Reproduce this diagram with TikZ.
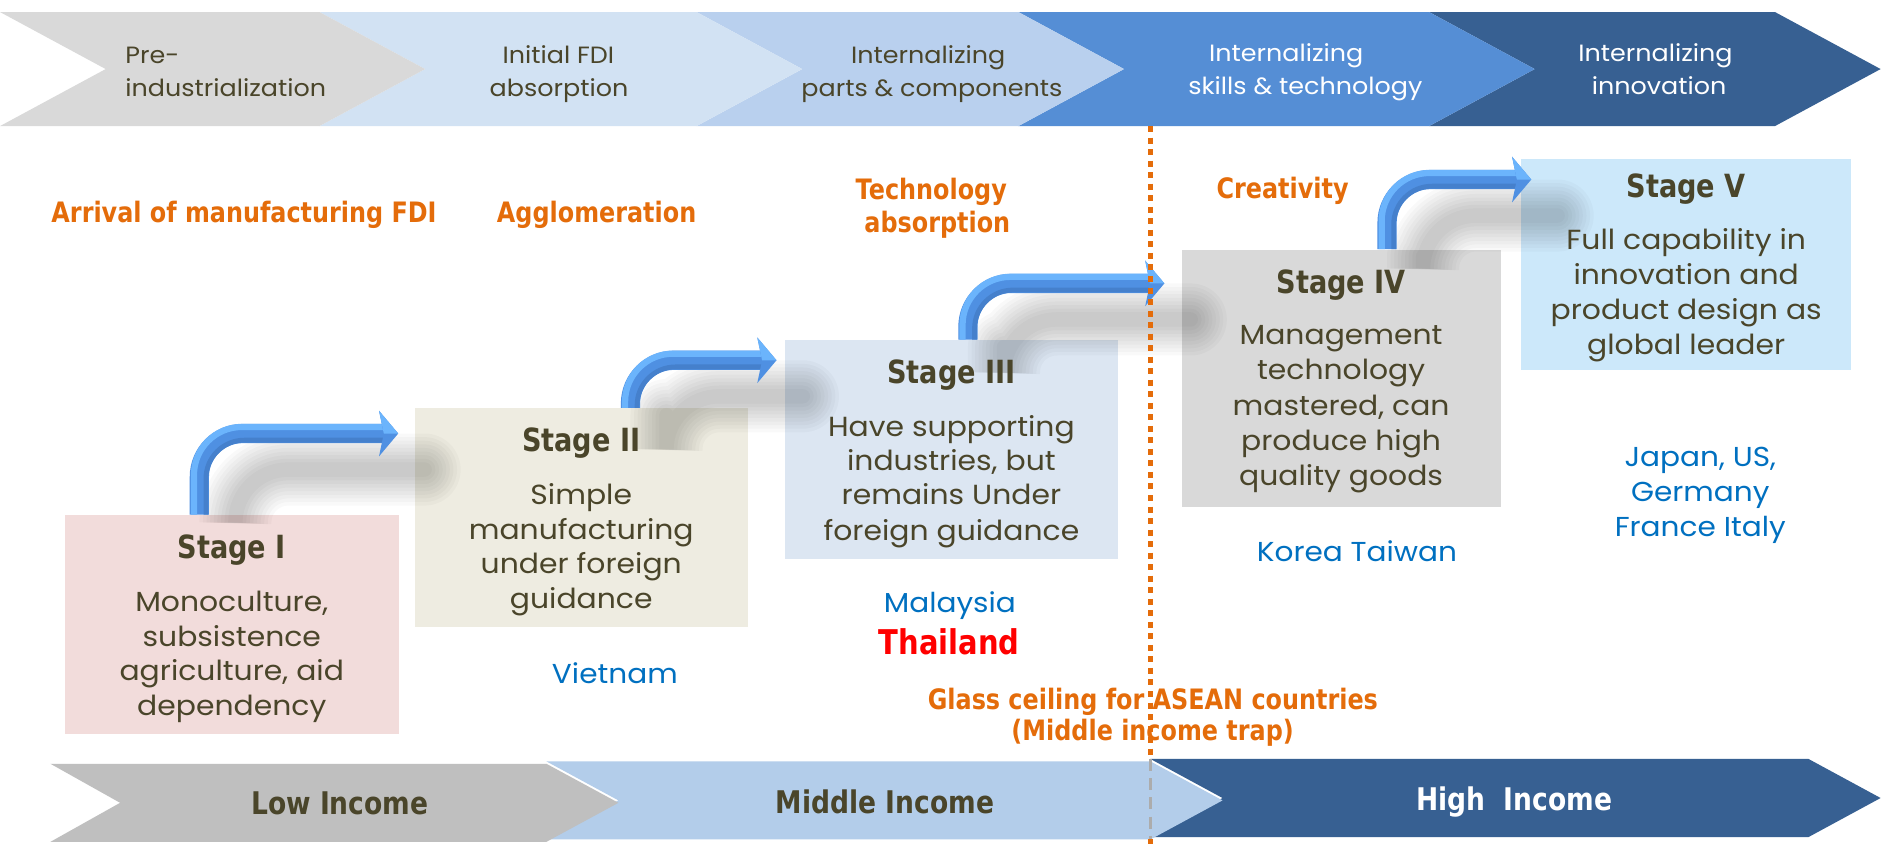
\documentclass[tikz,border=0pt]{standalone}
\usepackage{fontspec}
\usetikzlibrary{calc}
\newfontfamily\gothic{Poppins}[FakeStretch=1.08]
\newfontfamily\heavy{DejaVu Sans}[FakeStretch=0.85]
\definecolor{txt}{HTML}{4A452A}
\definecolor{orng}{HTML}{E46C0A}
\definecolor{cblue}{HTML}{0070C0}
\definecolor{pre}{HTML}{D9D9D9}
\definecolor{ini}{HTML}{D2E2F3}
\definecolor{parts}{HTML}{B9D0EE}
\definecolor{skills}{HTML}{558ED5}
\definecolor{innov}{HTML}{376092}
\definecolor{low}{HTML}{BFBFBF}
\definecolor{mid}{HTML}{B3CDEA}
\definecolor{high}{HTML}{376092}
\definecolor{bI}{HTML}{F2DCDB}
\definecolor{bII}{HTML}{EEECE1}
\definecolor{bIII}{HTML}{DCE6F2}
\definecolor{bIV}{HTML}{D9D9D9}
\definecolor{bV}{HTML}{CCE8FA}
\definecolor{arrowdark}{HTML}{4F90E2}
\definecolor{arrowlight}{HTML}{6BB4FC}
\definecolor{arrowdeep}{HTML}{4580CC}
\begin{document}
\begin{tikzpicture}[x=0.5pt,y=-0.5pt,
  body/.style={anchor=base, inner sep=0pt, text=txt, font=\gothic\fontsize{11.5}{14}\selectfont},
  title/.style={anchor=base, inner sep=0pt, text=txt, font=\heavy\bfseries\fontsize{13.3}{16}\selectfont},
  toplab/.style={anchor=base, inner sep=0pt, text=txt, font=\gothic\fontsize{9.8}{12}\selectfont},
  toplabw/.style={toplab, text=white},
  orlab/.style={anchor=base, inner sep=0pt, text=orng, font=\heavy\bfseries\fontsize{11.7}{14}\selectfont},
  country/.style={anchor=base, inner sep=0pt, text=cblue, font=\gothic\fontsize{11.4}{14}\selectfont},
  thai/.style={anchor=base, inner sep=0pt, text=red, font=\heavy\bfseries\fontsize{14.2}{16}\selectfont},
  income/.style={anchor=base, inner sep=0pt, text=txt, font=\heavy\bfseries\fontsize{13}{15}\selectfont},
  stagebox/.style={draw=none, inner sep=0pt},
  shaft/.style={line width=8pt, draw=arrowdark, rounded corners=18pt},
  shafthi/.style={line width=2.6pt, draw=arrowlight, rounded corners=20pt},
  shaftlo/.style={line width=2pt, draw=arrowdeep, rounded corners=16pt},
  arrowhead/.style={fill=arrowdark},
  glowline/.style={line cap=round, rounded corners=22pt}
]
\fill[white] (0,0) rectangle (1568,703);
\useasboundingbox (0,0) rectangle (1568,703);

% top chevrons
\fill[innov]  (1190,10) -- (1478,10) -- (1566,57.5) -- (1478,105) -- (1190,105) -- (1278,57.5) -- cycle;
\fill[skills] (848,10) -- (1190,10) -- (1278,57.5) -- (1190,105) -- (848,105) -- (936,57.5) -- cycle;
\fill[parts]  (580,10) -- (848,10) -- (936,57.5) -- (848,105) -- (580,105) -- (668,57.5) -- cycle;
\fill[ini]    (266,10) -- (580,10) -- (668,57.5) -- (580,105) -- (266,105) -- (354,57.5) -- cycle;
\fill[pre]    (0,10) -- (266,10) -- (354,57.5) -- (266,105) -- (0,105) -- (88,57.5) -- cycle;

\node[toplab, anchor=base west] (p1) at (104,52.8) {Pre-};
\node[toplab, anchor=base west] (p2) at (104,80) {industrialization};
\node[toplab] (i1) at (465,52.8) {Initial FDI};
\node[toplab] (i2) at (465.5,80.5) {absorption};
\node[toplab] (c1) at (773,52.5) {Internalizing};
\node[toplab] (c2) at (776,80) {parts \& components};
\node[toplabw] (k1) at (1071,51.4) {Internalizing};
\node[toplabw] (k2) at (1087,79) {skills \& technology};
\node[toplabw] (n1) at (1378.5,51.4) {Internalizing};
\node[toplabw] (n2) at (1381.5,79) {innovation};

% orange labels
\node[orlab] (o1) at (203.2,185.5) {Arrival of manufacturing FDI};
\node[orlab] (o2) at (496.8,185.5) {Agglomeration};
\node[orlab] (o3) at (775.5,165.8) {Technology};
\node[orlab] (o4) at (780.5,193.5) {absorption};
\node[orlab] (o5) at (1068,165.5) {Creativity};

% boxes
\node[stagebox, fill=bI,   minimum width=139pt,   minimum height=91.3pt]  (s1) at (193,520.3) {};
\node[stagebox, fill=bII,  minimum width=138.5pt, minimum height=91.25pt] (s2) at (484,431.25) {};
\node[stagebox, fill=bIII, minimum width=138.45pt,minimum height=91.25pt] (s3) at (792.25,374.55) {};
\node[stagebox, fill=bIV,  minimum width=132.75pt,minimum height=107pt]   (s4) at (1116.75,314.8) {};
\node[stagebox, fill=bV,   minimum width=137.6pt, minimum height=87.75pt] (s5) at (1404.1,220.05) {};

% arrow targets
\coordinate (t1) at ($(s2.west)+(-13.5,-70.25)$);
\coordinate (t2) at ($(s3.west)+(-6.8,-74.55)$);
\coordinate (t3) at ($(s4.west)+(-14,-78.8)$);
\coordinate (t4) at ($(s5.west)+(9,-70.55)$);
\coordinate (f1) at ($(s1.north)+(-27,0)$);
\coordinate (f2) at ($(s2.north)+(41,0)$);
\coordinate (f3) at ($(s3.north)+(13.75,0)$);
\coordinate (f4) at ($(s4.north)+(38.25,0)$);

% soft shadows
\foreach \f/\t in {f1/t1, f2/t2, f3/t3, f4/t4}{
  \foreach \w in {30pt,27pt,24pt,21pt,18pt,15pt,12pt,9pt,6pt}{
    \draw[glowline, black, opacity=0.022, line width=\w] ($(\f)+(30,6)$) |- ($(\t)+(22,30)$);
  }
}

% arrows
\foreach \f/\t in {f1/t1, f2/t2, f3/t3, f4/t4}{
  \draw[shaft] (\f) |- ($(\t)+(-12,0)$);
  \draw[shafthi] ($(\f)+(-4.5,0)$) |- ($(\t)+(-12,-5.5)$);
  \draw[shaftlo] ($(\f)+(5.5,0)$) |- ($(\t)+(-12,5.5)$);
  \fill[arrowhead] (\t) -- ++(-16,-19) -- ++(4,19) -- ++(-4,19) -- cycle;
  \fill[arrowlight] (\t) -- ++(-16,-19) -- ++(4,19) -- cycle;
}

% box texts
\node[title] (s1t) at (193,465) {Stage I};
\node[body] (s1a) at (193,509.4) {Monoculture,};
\node[body] (s1b) at (193,538) {subsistence};
\node[body] (s1c) at (193,566.7) {agriculture, aid};
\node[body] (s1d) at (193,595.4) {dependency};

\node[title] (s2t) at (484,376) {Stage II};
\node[body] (s2a) at (484,420.5) {Simple};
\node[body] (s2b) at (484,449) {manufacturing};
\node[body] (s2c) at (484,477.9) {under foreign};
\node[body] (s2d) at (484,506.5) {guidance};

\node[title] (s3t) at (792.25,319.3) {Stage III};
\node[body] (s3a) at (792.25,363.2) {Have supporting};
\node[body] (s3b) at (792.25,391.9) {industries, but};
\node[body] (s3c) at (792.25,420.5) {remains Under};
\node[body] (s3d) at (792.25,449.8) {foreign guidance};

\node[title] (s4t) at (1116.75,244.3) {Stage IV};
\node[body] (s4a) at (1116.75,286.5) {Management};
\node[body] (s4b) at (1116.75,316) {technology};
\node[body] (s4c) at (1116.75,346) {mastered, can};
\node[body] (s4d) at (1116.75,375) {produce high};
\node[body] (s4e) at (1116.75,404) {quality goods};

\node[title] (s5t) at (1404.1,164.1) {Stage V};
\node[body] (s5a) at (1404.1,207.8) {Full capability in};
\node[body] (s5b) at (1404.1,236.8) {innovation and};
\node[body] (s5c) at (1404.1,265.8) {product design as};
\node[body] (s5d) at (1404.1,294.8) {global leader};

% countries
\node[country] (vn) at (512,569.3) {Vietnam};
\node[country] (my) at (791,510.4) {Malaysia};
\node[thai] (th) at (790.4,544.7) {Thailand};
\node[country] (kt) at (1130,467.4) {Korea Taiwan};
\node[country] (jp) at (1415.8,388.7) {Japan, US,};
\node[country] (de) at (1415.8,417.7) {Germany};
\node[country] (fr) at (1415.8,446.7) {France Italy};

% glass ceiling
\node[orlab] (g1) at (960,590.6) {Glass ceiling for ASEAN countries};
\node[orlab] (g2) at (959.8,617) {(Middle income trap)};

% bottom chevrons
\fill[high] (958,632) -- (1506,632) -- (1566,664.5) -- (1506,697) -- (958,697) -- (1018,664.5) -- cycle;
\fill[mid]  (455,634) -- (958,634) -- (1018,666.5) -- (958,699) -- (455,699) -- (515,666.5) -- cycle;
\fill[low]  (42,636) -- (455,636) -- (515,668.5) -- (455,701) -- (42,701) -- (100,668.5) -- cycle;
\node[income] (li) at (283,678) {Low Income};
\node[income] (mi) at (737,677) {Middle Income};
\node[income, text=white] (hi) at (1261,675) {High\ \ Income};

% glass ceiling line
\coordinate (gtop) at (958,105);
\coordinate (gmid1) at (958,632);
\coordinate (gmid2) at (958,699);
\coordinate (gbot) at (958,703);
\draw[orng, line width=2pt, dash pattern=on 2.5pt off 2.3pt] (gtop) -- (gmid1);
\draw[gray!65, line width=1.6pt, dash pattern=on 5pt off 3pt] (gmid1) -- (gmid2);
\draw[orng, line width=2pt, dash pattern=on 2.5pt off 2.3pt] (gmid2) -- (gbot);
\end{tikzpicture}
\end{document}
